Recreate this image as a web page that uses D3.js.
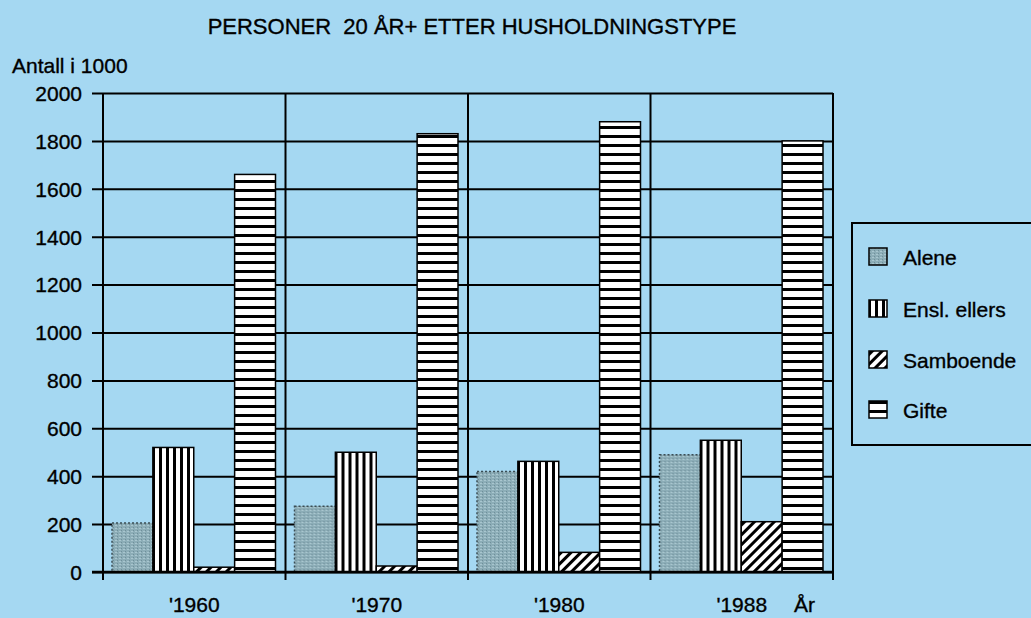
<!DOCTYPE html>
<html><head><meta charset="utf-8">
<script src="https://cdn.jsdelivr.net/npm/d3@7"></script>
<style>body{margin:0;background:#a5d8f2;} svg{display:block;} text{stroke:#000;stroke-width:0.35px;fill:#000;}</style>
</head><body>
<svg id="c" width="1031" height="618"></svg>
<script>
const years = ["'1960", "'1970", "'1980", "'1988"];
const seriesNames = ["Alene", "Ensl. ellers", "Samboende", "Gifte"];
const alene = [205, 275, 420, 490];
const enslEllers = [520, 500, 462, 550];
const samboende = [20, 25, 82, 210];
const gifte = [1660, 1830, 1880, 1800];
const yTicks = [0, 200, 400, 600, 800, 1000, 1200, 1400, 1600, 1800, 2000];
const seriesValues = [alene, enslEllers, samboende, gifte];

const svg = d3.select("#c");
const bg = "#a5d8f2";
svg.append("rect").attr("width",1031).attr("height",618).attr("fill",bg);
const defs = svg.append("defs");

// Patterns
const pA = defs.append("pattern").attr("id","pA").attr("patternUnits","userSpaceOnUse").attr("width",4).attr("height",3);
pA.append("rect").attr("width",4).attr("height",3).attr("fill","#8cadb7");
pA.append("rect").attr("x",0).attr("y",0).attr("width",2).attr("height",1).attr("fill","#a9c6cf");
pA.append("rect").attr("x",2).attr("y",2).attr("width",1).attr("height",1).attr("fill","#6f8f9a");
const pE = defs.append("pattern").attr("id","pE").attr("patternUnits","userSpaceOnUse").attr("width",7).attr("height",10);
pE.append("rect").attr("width",7).attr("height",10).attr("fill","#fff");
pE.append("rect").attr("x",0).attr("width",3).attr("height",10).attr("fill","#000");
const pS = defs.append("pattern").attr("id","pS").attr("patternUnits","userSpaceOnUse").attr("width",7).attr("height",7).attr("patternTransform","rotate(45)");
pS.append("rect").attr("width",7).attr("height",7).attr("fill","#fff");
pS.append("rect").attr("width",3).attr("height",7).attr("fill","#000");
const pG = defs.append("pattern").attr("id","pG").attr("patternUnits","userSpaceOnUse").attr("width",10).attr("height",9);
pG.append("rect").attr("width",10).attr("height",9).attr("fill","#fff");
pG.append("rect").attr("y",0).attr("width",10).attr("height",3).attr("fill","#000");
const fills = ["url(#pA)","url(#pE)","url(#pS)","url(#pG)"];

const pLeft = 103, pRight = 833, pTop = 93, pBottom = 572;
const x = d3.scaleBand().domain(years).range([pLeft, pRight]).paddingInner(0).paddingOuter(0);
const y = d3.scaleLinear().domain([0, 2000]).range([pBottom, pTop]);
const xs = d3.scaleBand().domain(d3.range(4)).range([9, x.bandwidth() - 10]);
const font = "Liberation Sans, Arial, Helvetica, sans-serif";
const fs = 21;

// horizontal gridlines
const yAxis = d3.axisLeft(y).tickValues(yTicks).tickSize(-(pRight - pLeft)).tickPadding(12).tickFormat(d3.format("d"));
const ga = svg.append("g").attr("transform",`translate(${pLeft},0)`).call(yAxis);
ga.select(".domain").remove();
ga.selectAll(".tick line").attr("stroke","#000").attr("stroke-width",2).attr("x1",-11);
ga.selectAll(".tick text").attr("font-family",font).attr("font-size",fs).attr("fill","#000").attr("x",-21).attr("dy","0.35em");

// vertical separators
const seps = years.map(d => x(d)).concat([pRight]);
svg.append("g").selectAll("line").data(seps).join("line")
  .attr("x1",d=>d).attr("x2",d=>d).attr("y1",pTop).attr("y2",pBottom + 8)
  .attr("stroke","#000").attr("stroke-width",2);

// bars
const groups = svg.append("g").selectAll("g").data(years).join("g")
  .attr("transform", d => `translate(${x(d)},0)`);
groups.selectAll("rect").data((d,i) => seriesValues.map((s,j) => ({j, v: s[i]}))).join("rect")
  .attr("x", d => xs(d.j)).attr("width", xs.bandwidth())
  .attr("y", d => y(d.v)).attr("height", d => y(0) - y(d.v))
  .attr("fill", d => fills[d.j]).attr("stroke", d => d.j === 0 ? "#3a4d55" : "#000").attr("stroke-width",1.5)
  .attr("stroke-dasharray", d => d.j === 0 ? "2,2" : null);

// baseline
svg.append("line").attr("x1",pLeft-11).attr("x2",pRight).attr("y1",pBottom).attr("y2",pBottom).attr("stroke","#000").attr("stroke-width",2.5);

// x labels
const xAxis = d3.axisBottom(x).tickSize(0).tickPadding(0);
const gx = svg.append("g").attr("transform",`translate(0,${pBottom})`).call(xAxis);
gx.select(".domain").remove();
gx.selectAll(".tick text").attr("font-family",font).attr("font-size",fs).attr("fill","#000").attr("y",40).attr("dy",0);

svg.append("text").attr("x",794).attr("y",612).attr("font-family",font).attr("font-size",fs).attr("text-anchor","start").text("År");
svg.append("text").attr("x",12).attr("y",73).attr("font-family",font).attr("font-size",fs).text("Antall i 1000");
svg.append("text").attr("x",472).attr("y",34).attr("font-family",font).attr("font-size",22).attr("text-anchor","middle")
  .style("white-space","pre").text("PERSONER  20 ÅR+ ETTER HUSHOLDNINGSTYPE");

// legend
const lg = svg.append("g");
lg.append("rect").attr("x",852).attr("y",223).attr("width",190).attr("height",222).attr("fill",bg).attr("stroke","#000").attr("stroke-width",2);
const ly = [257, 309, 360, 410];
const li = lg.selectAll("g").data(seriesNames).join("g").attr("transform",(d,i)=>`translate(0,${ly[i]})`);
li.append("rect").attr("x",869).attr("y",-9).attr("width",18).attr("height",17)
  .attr("fill",(d,i)=>fills[i]).attr("stroke","#000").attr("stroke-width",1.5);
li.append("text").attr("x",903).attr("y",0).attr("dy","0.36em").attr("font-family",font).attr("font-size",fs).text(d=>d);
</script>
</body></html>
